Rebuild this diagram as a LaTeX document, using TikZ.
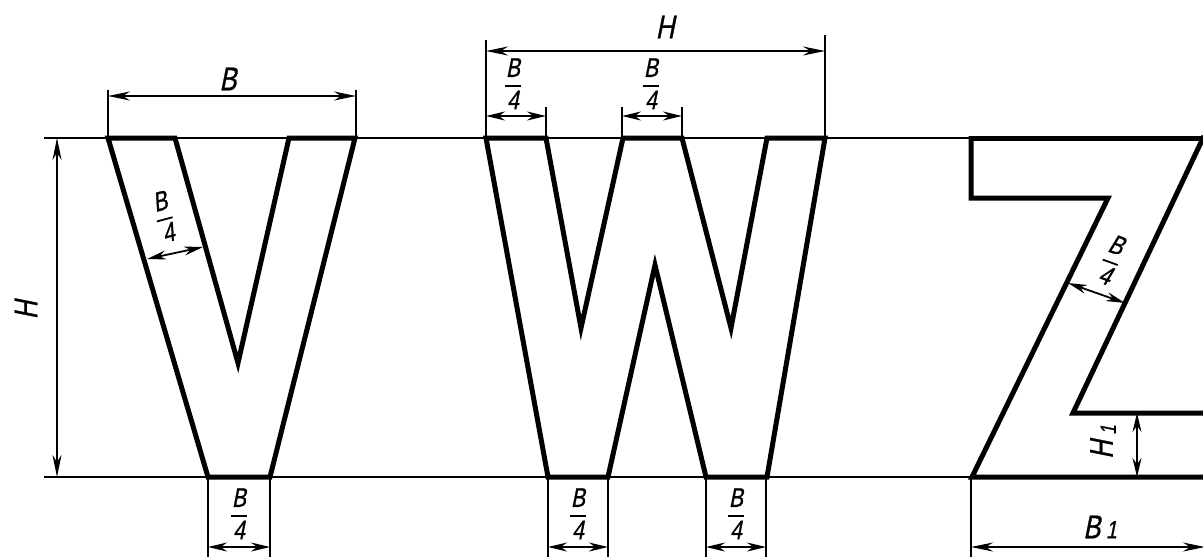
\documentclass[tikz,border=0pt]{standalone}
\usepackage{fontspec}
\newfontfamily\dimf{Liberation Sans}[FakeStretch=0.78,FakeSlant=0.2,FakeBold=0.8]
\usetikzlibrary{arrows.meta}
\tikzset{
  outline/.style={line width=5pt,line join=miter,miter limit=10},
  thinl/.style={line width=1.8pt},
  dimbig/.style={line width=1.8pt,{Stealth[length=22pt,width=9pt]}-{Stealth[length=22pt,width=9pt]}},
  dimsmall/.style={line width=1.8pt,{Stealth[length=19pt,width=9pt]}-{Stealth[length=19pt,width=9pt]}},
  biglab/.style={inner sep=0pt,font=\dimf\fontsize{33}{33}\selectfont},
  fraclab/.style={inner sep=0pt,font=\dimf\fontsize{27}{27}\selectfont}
}
\setlength{\arrayrulewidth}{1.8pt}
\newcommand{\fr}{\setlength{\tabcolsep}{1pt}\renewcommand{\arraystretch}{0.8}\begin{tabular}{@{\hspace{1pt}}c@{\hspace{1pt}}}B\\[2pt]\hline\rule{0pt}{22pt}4\end{tabular}}
\begin{document}
\begin{tikzpicture}[x=1pt,y=-1pt]
\useasboundingbox (0,0) rectangle (1203,557);
\clip (0,0) rectangle (1203,557);
% base lines
\draw[thinl] (44,138) -- (1203,138);
\draw[thinl] (44,477) -- (1203,477);
% letters
\draw[outline] (108,138) -- (175,138) -- (238,363) -- (289,138) -- (355,138) -- (270,477) -- (208,477) -- cycle;
\draw[outline] (486,138) -- (546,138) -- (581,328) -- (623,138) -- (682,138) -- (731,328) -- (767,138) -- (825,138) -- (767,477) -- (706,477) -- (655,265) -- (608,477) -- (548,477) -- cycle;
\draw[outline] (971,138) -- (1210,138);
\draw[outline] (1204,136) -- (1073,413) -- (1210,413);
\draw[outline] (971,136) -- (971,198) -- (1108,198) -- (972,477) -- (1210,477);
% extension lines
\draw[thinl] (108,138) -- (108,90);
\draw[thinl] (356,138) -- (356,90);
\draw[thinl] (486,138) -- (486,40);
\draw[thinl] (825,138) -- (825,35);
\draw[thinl] (546,138) -- (546,107);
\draw[thinl] (622,138) -- (622,107);
\draw[thinl] (682,138) -- (682,107);
\foreach \x in {208,270,548,608,706,766,971}{\draw[thinl] (\x,477) -- (\x,557);}
% dimensions
\draw[dimbig] (108,96) -- (356,96);
\draw[dimbig] (57,138) -- (57,477);
\draw[dimbig] (486,51) -- (825,51);
\draw[dimsmall] (486,116) -- (546,116);
\draw[dimsmall] (622,116) -- (682,116);
\draw[dimsmall] (208,547) -- (270,547);
\draw[dimsmall] (548,547) -- (608,547);
\draw[dimsmall] (706,547) -- (766,547);
\draw[dimsmall] (147,259) -- (203,247);
\draw[dimsmall] (1068,283) -- (1125,303);
\draw[dimsmall] (1137,413) -- (1137,477);
\draw[dimbig] (971,547) -- (1205,547);
% labels
\node[biglab] (lb) at (228,79) {B};
\node[biglab,rotate=90] (lh) at (26,310) {H};
\node[biglab] (lh2) at (665,27) {H};
\node[biglab,rotate=90] (lh1) at (1103,442) {H\raisebox{-3pt}{\,\fontsize{22}{22}\selectfont 1}};
\node[biglab] (lb1) at (1100,527) {B\,\fontsize{25}{25}\selectfont 1};
\node[fraclab] (f1) at (513,87) {\fr};
\node[fraclab] (f2) at (651,87) {\fr};
\node[fraclab] (f3) at (239,517) {\fr};
\node[fraclab] (f4) at (578,517) {\fr};
\node[fraclab] (f5) at (736,517) {\fr};
\node[fraclab,rotate=15] (f6) at (165,220) {\fr};
\node[fraclab,rotate=-20] (f7) at (1110,263) {\fr};
\end{tikzpicture}
\end{document}
